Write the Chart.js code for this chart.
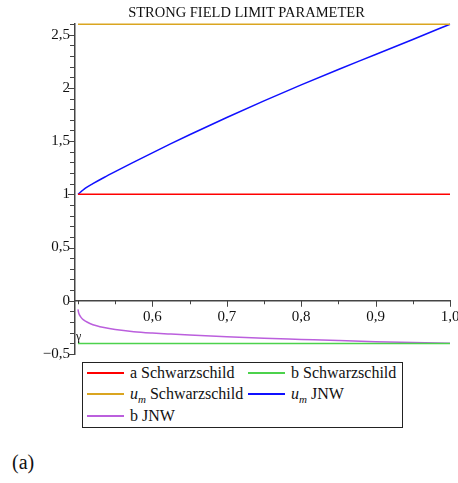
<!DOCTYPE html>
<html>
<head>
<meta charset="utf-8">
<script src="https://cdn.jsdelivr.net/npm/chart.js@4"></script>
<style>
	html, body { margin: 0; padding: 0; background: #fff; }
	body { width: 458px; height: 483px; position: relative; overflow: hidden; font-family: 'Liberation Serif', 'Times New Roman', serif; color: #111; }
	#wrap { position: absolute; left: 0; top: 0; width: 458px; height: 360px; }
	#legend { position: absolute; left: 82px; top: 362px; width: 319px; height: 64px; border: 1px solid #222;
		display: grid; grid-template-columns: 161px 158px; grid-template-rows: 20px 22px 22px; font-size: 16px; }
	.item { display: flex; align-items: center; white-space: nowrap; }
	.swatch { flex: none; width: 37px; height: 2px; margin: 0 6px 0 4px; }
	.item sub { font-size: 11px; font-style: italic; vertical-align: -4px; line-height: 0; }
	#caption { position: absolute; left: 12px; top: 451px; font-size: 20px; }
</style>
</head>
<body>
<div id="wrap"><canvas id="canvas"></canvas></div>
<div id="legend"></div>
<div id="caption">(a)</div>
<script>
// gamma values and the strong field limit coefficients
const gammaRange = [0.5, 1.0]
const aSchwarzschild = 1
const bSchwarzschild = -0.4002
const umSchwarzschild = 2.598

const gammaUm = [0.5, 0.505, 0.51, 0.52, 0.535, 0.55, 0.575, 0.6, 0.625, 0.65, 0.7, 0.75, 0.8, 0.85, 0.9, 0.95, 1.0]
const umJNW = [1.0, 1.03, 1.058, 1.1, 1.158, 1.213, 1.302, 1.39, 1.476, 1.56, 1.722, 1.878, 2.028, 2.173, 2.313, 2.455, 2.598]

const gammaB = [0.5, 0.501, 0.503, 0.506, 0.51, 0.516, 0.525, 0.535, 0.55, 0.575, 0.6, 0.625, 0.65, 0.7, 0.75, 0.8, 0.85, 0.9, 0.95, 1.0]
const bJNW = [-0.08, -0.115, -0.145, -0.172, -0.192, -0.213, -0.235, -0.252, -0.27, -0.29, -0.303, -0.313, -0.322, -0.338, -0.352, -0.363, -0.374, -0.384, -0.392, -0.4]

const seriesLabels = ['a Schwarzschild', 'b Schwarzschild', 'u_m Schwarzschild', 'u_m JNW', 'b JNW']
const seriesColors = ['#ff0000', '#4cd24c', '#daa520', '#1010ff', '#bb5fdd']

const xTickLabels = [0.6, 0.7, 0.8, 0.9, 1.0]
const yTickLabels = [-0.5, 0, 0.5, 1, 1.5, 2, 2.5]
const xTickMarks = [0.5, 0.55, 0.6, 0.65, 0.7, 0.75, 0.8, 0.85, 0.9, 0.95, 1.0]
const yTickMarks = []
for (let i = -5; i <= 26; i++) { yTickMarks.push(i / 10) }

const serif = 'Liberation Serif'
const axisColor = '#444'

const constant = value => gammaRange.map(x => ({ x, y: value }))
const pairs = (xs, ys) => xs.map((x, i) => ({ x, y: ys[i] }))

const seriesData = [
	constant(aSchwarzschild),
	constant(bSchwarzschild),
	constant(umSchwarzschild),
	pairs(gammaUm, umJNW),
	pairs(gammaB, bJNW),
]

const formatY = v => (v < 0 ? '\u2212' : '') + String(Math.abs(v)).replace('.', ',')

// title, hand drawn tick marks and the little gamma mark
const decor = {
	id: 'decor',
	afterDraw(chart) {
		const { ctx, chartArea, scales: { x, y } } = chart
		ctx.save()
		ctx.fillStyle = '#111'
		ctx.font = `14.5px ${serif}`
		ctx.textAlign = 'center'
		ctx.textBaseline = 'alphabetic'
		ctx.fillText('STRONG FIELD LIMIT PARAMETER', 246.5, 17)

		ctx.strokeStyle = axisColor
		ctx.lineWidth = 1
		yTickMarks.forEach(v => {
			const py = Math.round(y.getPixelForValue(v)) + 0.5
			const len = yTickLabels.some(t => Math.abs(t - v) < 1e-9) ? 7 : 5
			ctx.beginPath()
			ctx.moveTo(chartArea.left - len, py)
			ctx.lineTo(chartArea.left, py)
			ctx.stroke()
		})
		const y0 = y.getPixelForValue(0)
		xTickMarks.forEach(v => {
			const px = Math.round(x.getPixelForValue(v)) + 0.5
			const len = xTickLabels.some(t => Math.abs(t - v) < 1e-9) ? 6 : 3.5
			ctx.beginPath()
			ctx.moveTo(px, y0)
			ctx.lineTo(px, y0 + len)
			ctx.stroke()
		})

		ctx.font = `12px ${serif}`
		ctx.textAlign = 'left'
		ctx.fillText('\u03b3', chartArea.left + 1, y.getPixelForValue(bSchwarzschild) - 3)
		ctx.restore()
	},
}

const tickFont = { family: serif, size: 15 }

const chart = new Chart(document.getElementById('canvas'), {
	type: 'line',
	data: {
		datasets: seriesData.map((data, i) => ({
			label: seriesLabels[i],
			data,
			borderColor: seriesColors[i],
			borderWidth: 1.5,
			pointRadius: 0,
			cubicInterpolationMode: 'monotone',
			clip: 4,
		})),
	},
	options: {
		responsive: true,
		maintainAspectRatio: false,
		animation: false,
		layout: { padding: { left: 0, top: 24, right: 8, bottom: 6 } },
		plugins: { legend: { display: false }, tooltip: { enabled: false } },
		scales: {
			x: {
				type: 'linear',
				min: 0.496,
				max: 1.0,
				position: { y: 0 },
				afterBuildTicks: s => { s.ticks = xTickLabels.map(value => ({ value })) },
				afterFit: s => { s.paddingLeft = 0; s.paddingRight = 0 },
				grid: { drawOnChartArea: false, drawTicks: false },
				border: { color: axisColor, width: 1.5 },
				ticks: {
					callback: v => v.toFixed(1).replace('.', ','),
					font: tickFont,
					color: '#111',
					padding: 7,
					maxRotation: 0,
					autoSkip: false,
				},
			},
			y: {
				type: 'linear',
				min: -0.5,
				max: 2.6,
				afterBuildTicks: s => { s.ticks = yTickLabels.map(value => ({ value })) },
				afterFit: s => { s.width = 75; s.paddingTop = 0; s.paddingBottom = 0 },
				grid: { drawOnChartArea: false, drawTicks: false },
				border: { color: axisColor, width: 1.5 },
				ticks: {
					callback: formatY,
					font: tickFont,
					color: '#111',
					padding: 5,
					autoSkip: false,
				},
			},
		},
	},
	plugins: [decor],
})

// legend box with the u_m subscript
const legendLabel = text => text.replace('u_m', '<i>u</i><sub>m</sub>')
document.getElementById('legend').innerHTML = seriesLabels.map((label, i) =>
	`<div class="item"><span class="swatch" style="background:${seriesColors[i]}"></span><span>${legendLabel(label)}</span></div>`
).join('')
</script>
</body>
</html>
